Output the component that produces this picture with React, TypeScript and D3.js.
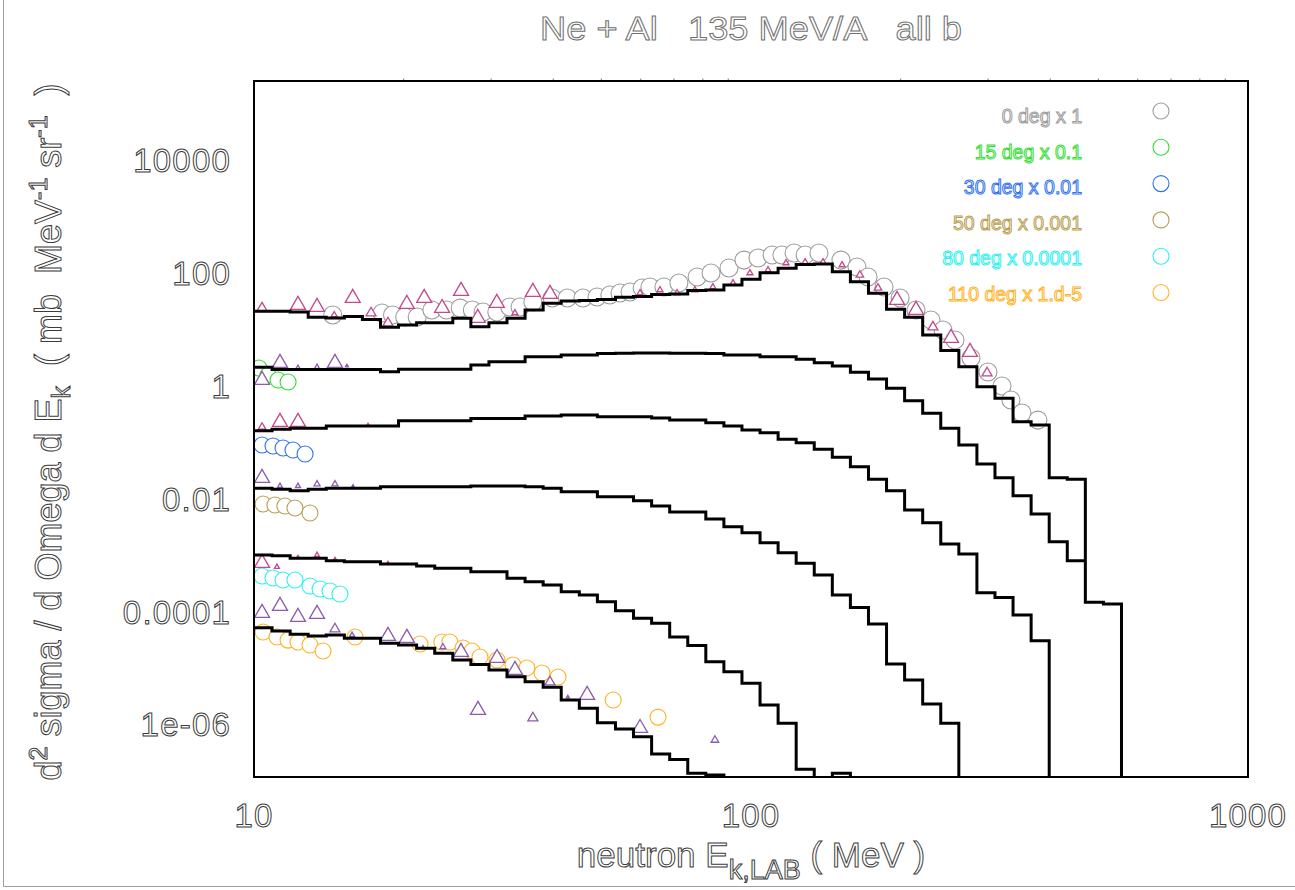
import React from 'react';
import * as d3 from 'd3';

const W = 1295;
const H = 890;

// 55 logarithmic energy bins from 10 to 1000 MeV (bin edges, MeV)
const binEdges = [
  10.0, 10.873, 11.823, 12.855, 13.977, 15.199, 16.525, 17.967, 19.536, 21.242,
  23.101, 25.119, 27.312, 29.697, 32.289, 35.112, 38.178, 41.51, 45.14, 49.08,
  53.37, 58.03, 63.1, 68.61, 74.6, 81.11, 88.2, 95.9, 104.28, 113.38,
  123.28, 134.05, 145.75, 158.49, 172.33, 187.38, 203.74, 221.53, 240.88, 261.92,
  284.8, 309.67, 336.72, 366.13, 398.11, 432.88, 470.68, 511.79, 556.49, 605.09,
  657.93, 715.39, 777.87, 845.81, 919.68, 1000.0,
];

// calculated spectra (already multiplied by the legend factors); 0 = empty bin
const hist0deg = [
  21.1, 21.1, 20.5, 16.5, 16.1, 17.1, 15.2, 11.0, 12.1, 13.3, 13.3, 15.9, 11.3, 13.3, 15.9,
  22.3, 29.3, 32.1, 32.8, 34.2, 37.4, 38.6, 41.9, 42.8, 49.3, 50.4, 61.8, 78.0, 102, 122,
  143, 146, 106, 70.6, 44.0, 22.9, 16.5, 8.02, 4.26, 2.2, 0.97, 0.605, 0.233, 0.204,
  0.0237, 0.0222, 1.46e-4, 1.36e-4, 1e-9, 0, 0, 0, 0, 0, 0,
];
const hist15deg = [
  2.15, 1.96, 1.96, 1.96, 1.96, 1.96, 1.96, 1.79, 1.98, 1.98, 1.98, 1.98, 2.36, 2.7, 2.7,
  3.31, 3.31, 3.55, 3.55, 3.78, 3.82, 3.85, 3.85, 3.82, 3.8, 3.78, 3.55, 3.55, 3.31, 3.31,
  2.97, 2.59, 2.26, 1.76, 1.33, 0.91, 0.549, 0.328, 0.178, 0.09, 0.0414, 0.0237, 0.01135,
  0.00537, 0.00173, 7.98e-4, 0, 0, 0, 0, 0, 0, 0, 0, 0,
];
const hist30deg = [
  0.161, 0.171, 0.178, 0.178, 0.195, 0.195, 0.195, 0.195, 0.243, 0.243, 0.243, 0.243,
  0.267, 0.267, 0.267, 0.294, 0.294, 0.306, 0.306, 0.286, 0.286, 0.286, 0.271, 0.249,
  0.249, 0.224, 0.195, 0.166, 0.149, 0.1135, 0.0988, 0.0755, 0.0545, 0.0371, 0.0222,
  0.0139, 0.00633, 0.00377, 0.00158, 0.00105, 2.16e-4, 1.79e-4, 8.7e-5, 3.05e-5, 1e-9,
  0, 0, 0, 0, 0, 0, 0, 0, 0, 0,
];
const hist50deg = [
  0.01535, 0.01473, 0.01393, 0.01473, 0.01535, 0.01535, 0.01535, 0.0164, 0.0164, 0.0164,
  0.0164, 0.0164, 0.01686, 0.01686, 0.01686, 0.0164, 0.01535, 0.01336, 0.01336, 0.01089,
  0.01089, 0.00925, 0.00745, 0.00583, 0.00583, 0.00438, 0.0032, 0.00251, 0.00167, 0.00111,
  7.18e-4, 4.45e-4, 1.97e-4, 1.19e-4, 6.03e-5, 1.18e-5, 6.12e-6, 2.3e-6, 1.05e-6, 1e-9,
  0, 0, 0, 0, 0, 0, 0, 0, 0, 0, 0, 0, 0, 0, 0,
];
const hist80deg = [
  1.008e-3, 9.8e-4, 8.81e-4, 8.81e-4, 7.98e-4, 7.67e-4, 7.67e-4, 6.98e-4, 6.98e-4, 6.44e-4,
  5.86e-4, 5.86e-4, 5.1e-4, 5.1e-4, 3.89e-4, 3.39e-4, 2.96e-4, 2.25e-4, 1.97e-4, 1.5e-4,
  1.04e-4, 7.61e-5, 6.21e-5, 3.55e-5, 2.51e-5, 1.29e-5, 8.6e-6, 5.35e-6, 2.21e-6, 1.05e-6,
  1.6e-7, 1e-9, 1.36e-7, 1e-9, 0, 0, 0, 0, 0, 0, 0, 0, 0, 0, 0, 0, 0, 0, 0, 0, 0, 0, 0, 0, 0,
];
const hist110deg = [
  5.19e-5, 4.53e-5, 3.96e-5, 3.69e-5, 3.85e-5, 3.36e-5, 3.36e-5, 2.74e-5, 2.56e-5, 2.24e-5,
  1.82e-5, 1.39e-5, 1.16e-5, 9.2e-6, 7.0e-6, 5.7e-6, 4.55e-6, 2.71e-6, 1.93e-6, 1.07e-6,
  8.3e-7, 6.05e-7, 2.99e-7, 2.4e-7, 1.37e-7, 1.27e-7, 1e-9,
  0, 0, 0, 0, 0, 0, 0, 0, 0, 0, 0, 0, 0, 0, 0, 0, 0, 0, 0, 0, 0, 0, 0, 0, 0, 0, 0,
];

// measured data, circles: [E (MeV), value]
const circ0deg = [
  [14.4, 18.2], [18.1, 19.7], [19.0, 18.2], [20.1, 16.7], [21.3, 16.7], [22.8, 22.3], [24.4, 22.3],
  [26.0, 24.1], [27.5, 22.3], [28.9, 20.5], [30.8, 20.5], [32.7, 25.2], [34.3, 25.2], [36.4, 30.9],
  [39.8, 36.3], [42.7, 36.3], [45.9, 36.3], [49.0, 37.8], [52.0, 41.0], [54.5, 44.6], [57.1, 46.4],
  [60.4, 54.7], [62.6, 56.9], [66.8, 56.9], [71.6, 67.0], [77.9, 85.6], [83.1, 100.9], [90.3, 123.7],
  [96.8, 171], [103.3, 186], [110.3, 210], [115.4, 210], [122.1, 228], [128.5, 210], [137.0, 228],
  [151.7, 171], [163.4, 129], [172.0, 85.6], [185.2, 56.9], [199.5, 36.3], [214.8, 22.3],
  [230.2, 14.8], [243.4, 9.84], [257.3, 6.54], [277.1, 3.14], [299.8, 1.77], [319.9, 1.0],
  [333.4, 0.565], [351, 0.332], [377.8, 0.249],
];
const circ15deg = [[10.23, 2.09], [10.67, 1.57], [11.18, 1.28], [11.71, 1.18]];
const circ30deg = [[10.38, 0.0899], [10.92, 0.0863], [11.44, 0.0796], [11.98, 0.0733], [12.67, 0.0623]];
const circ50deg = [[10.43, 0.00809], [11.02, 0.00776], [11.54, 0.00745], [12.09, 0.00687], [12.96, 0.0056]];
const circ80deg = [
  [10.38, 4.28e-4], [10.92, 3.94e-4], [11.44, 3.63e-4], [12.09, 3.63e-4], [12.96, 2.84e-4],
  [13.58, 2.52e-4], [14.22, 2.32e-4], [14.89, 2.05e-4],
];
const circ110deg = [
  [10.43, 4.35e-5], [11.12, 3.55e-5], [11.71, 3.13e-5], [12.26, 2.89e-5], [12.96, 2.56e-5],
  [13.77, 2.0e-5], [15.97, 3.55e-5], [21.58, 2.67e-5], [23.88, 2.89e-5], [24.78, 2.89e-5],
  [26.34, 2.26e-5], [27.46, 2.0e-5], [28.49, 1.57e-5], [30.83, 1.39e-5], [33.19, 1.13e-5],
  [35.4, 1.0e-5], [37.98, 8.15e-6], [40.9, 6.92e-6], [52.8, 2.71e-6], [65.0, 1.35e-6],
];

// second data set, triangles: [E (MeV), value, relative error]
const tri0deg = [
  [10.38, 24.1, 0.2], [12.26, 27.3, 0.3], [13.39, 25.2, 0.3], [14.5, 18.2, 0.12], [15.8, 36.3, 0.3],
  [17.2, 19.7, 0.2], [18.6, 13.1, 0.2], [20.3, 28.4, 0.3], [22.0, 36.3, 0.3], [23.9, 24.1, 0.3],
  [26.1, 48.3, 0.3], [28.2, 16.1, 0.3], [30.8, 29.6, 0.3], [33.5, 19.7, 0.12], [36.4, 46.4, 0.3],
  [39.4, 42.8, 0.3], [59.8, 44.6, 0.12], [65.6, 50.4, 0.12], [71.0, 44.6, 0.12], [77.1, 50.4, 0.12],
  [83.8, 56.9, 0.12], [92.0, 67.0, 0.12], [99.5, 100.8, 0.12], [108.2, 114, 0.12], [117.6, 151.7, 0.12],
  [128.5, 158, 0.12], [139.6, 158, 0.12], [152.5, 139.8, 0.12], [165.6, 92.9, 0.15], [180.1, 54.7, 0.15],
  [196.7, 33.5, 0.3], [214.8, 22.3, 0.3], [232.3, 11.1, 0.2], [252.6, 7.1, 0.3], [275.8, 4.01, 0.3],
  [298.5, 1.7, 0.2],
];
const tri15deg = [[10.38, 1.28, 0.3], [11.28, 2.56, 0.3], [12.26, 2.09, 0.1], [13.39, 2.17, 0.1], [14.55, 2.56, 0.3], [15.38, 2.26, 0.06]];
const tri30deg = [[10.38, 0.1875, 0.15], [11.28, 0.23, 0.3], [12.26, 0.23, 0.3], [16.96, 0.2035, 0.06]];
const tri50deg = [[10.38, 0.0234, 0.3], [11.28, 0.01686, 0.1], [12.26, 0.01686, 0.1], [13.39, 0.01829, 0.12], [14.55, 0.01829, 0.12], [15.82, 0.01686, 0.05]];
const tri80deg = [[10.38, 7.27e-4, 0.3], [11.12, 6.18e-4, 0.1], [12.26, 9.29e-4, 0.06], [13.39, 1.008e-3, 0.1], [14.55, 8.57e-4, 0.06], [18.6, 7.27e-4, 0.06]];
const tri110deg = [
  [10.38, 9.44e-5, 0.3], [11.28, 1.26e-4, 0.3], [12.26, 8.02e-5, 0.3], [13.39, 9.06e-5, 0.3],
  [14.55, 4.91e-5, 0.2], [15.75, 3.85e-5, 0.1], [18.6, 3.69e-5, 0.3], [20.31, 3.4e-5, 0.3],
  [21.88, 2.36e-5, 0.05], [23.99, 2.36e-5, 0.12], [26.09, 1.92e-5, 0.3], [28.23, 1.8e-6, 0.3],
  [30.83, 1.5e-5, 0.3], [33.5, 9.2e-6, 0.3], [36.4, 1.3e-6, 0.2], [39.4, 5.65e-6, 0.2],
  [42.8, 3.06e-6, 0.06], [46.8, 3.32e-6, 0.3], [59.8, 8.6e-7, 0.3], [84.6, 5.28e-7, 0.15],
];

const legendLabels = ['0 deg x 1', '15 deg x 0.1', '30 deg x 0.01', '50 deg x 0.001', '80 deg x 0.0001', '110 deg x 1.d-5'];
const seriesColors = ['#9c9c9c', '#2fe02f', '#2f72ee', '#b89e52', '#2ef0f0', '#ffb224'];
const triangleColors = ['#c4478f', '#8d5aac', '#c4478f', '#8d5aac', '#c4478f', '#8d5aac'];

const yTickValues = [1e4, 100, 1, 0.01, 1e-4, 1e-6];
const yTickLabels = ['10000', '100', '1', '0.01', '0.0001', '1e-06'];
const xTickValues = [10, 100, 1000];
const xTickLabels = ['10', '100', '1000'];
const xMinorTicks = [20, 30, 40, 50, 60, 70, 80, 90, 200, 300, 400, 500, 600, 700, 800, 900];

const FONT = "'Liberation Sans', Arial, Helvetica, sans-serif";

export default function App() {
  const left = 254, right = 1248, top = 81, bottom = 777;
  const x = d3.scaleLog().domain([10, 1000]).range([left, right]);
  const y = d3.scaleLog().domain([1.17e-7, 2.56e5]).range([bottom, top]);

  const hists = [hist0deg, hist15deg, hist30deg, hist50deg, hist80deg, hist110deg];
  const circs = [circ0deg, circ15deg, circ30deg, circ50deg, circ80deg, circ110deg];
  const tris = [tri0deg, tri15deg, tri30deg, tri50deg, tri80deg, tri110deg];

  const histPath = (vals: number[]) => {
    const pts: ([number, number] | null)[] = [];
    vals.forEach((v, i) => {
      if (v > 0) {
        pts.push([binEdges[i], v], [binEdges[i + 1], v]);
      } else {
        pts.push(null);
      }
    });
    const line = d3
      .line<[number, number] | null>()
      .defined((d) => d !== null)
      .x((d) => x((d as [number, number])[0]))
      .y((d) => y((d as [number, number])[1]));
    return line(pts) || '';
  };

  const triSym = d3.symbol().type(d3.symbolTriangle);

  const outline = (color: string, w = 1) => ({ fill: '#ffffff', stroke: color, strokeWidth: w });

  return (
    <svg width={W} height={H} style={{ position: 'absolute', left: 0, top: 0, background: '#fff' }} fontFamily={FONT}>
      <defs>
        <clipPath id="plotClip">
          <rect x={left} y={top} width={right - left} height={bottom - top} />
        </clipPath>
      </defs>
      <rect x={0} y={0} width={W} height={H} fill="#fff" />
      {/* outer frame */}
      <line x1={3.5} y1={0} x2={3.5} y2={886.5} stroke="#a0a0a0" strokeWidth={1} />
      <line x1={3.5} y1={886.5} x2={W} y2={886.5} stroke="#a0a0a0" strokeWidth={1} />

      {/* title */}
      <text x={751} y={40} textAnchor="middle" fontSize={34} style={{ whiteSpace: 'pre' }}
        textLength={422} lengthAdjust="spacingAndGlyphs" {...outline('#707070', 1)}>
        {'Ne + Al   135 MeV/A   all b'}
      </text>

      <g clipPath="url(#plotClip)">
        {/* circles */}
        {circs.map((pts, si) => (
          <g key={'c' + si}>
            {pts.map((p, i) => (
              <circle key={i} cx={x(p[0])} cy={y(p[1])} r={si === 0 ? 9 : 8}
                fill="#fff" stroke={seriesColors[si]} strokeWidth={1.1} />
            ))}
          </g>
        ))}
        {/* triangles */}
        {tris.map((pts, si) => (
          <g key={'t' + si}>
            {pts.map((p, i) => {
              const w = p[2] * 50;
              return (
                <path key={i} d={triSym.size(0.433 * w * w)() || ''}
                  transform={`translate(${x(p[0])},${y(p[1])})`}
                  fill="#fff" stroke={triangleColors[si]} strokeWidth={1.3} />
              );
            })}
          </g>
        ))}
        {/* calculated histograms */}
        {hists.map((h, si) => (
          <path key={'h' + si} d={histPath(h)} fill="none" stroke="#000" strokeWidth={3} strokeLinejoin="miter" />
        ))}
      </g>

      {/* plot frame */}
      <rect x={left} y={top} width={right - left} height={bottom - top} fill="none" stroke="#000" strokeWidth={2} />
      {xMinorTicks.map((t) => (
        <line key={t} x1={x(t)} x2={x(t)} y1={top - 1} y2={top - 2.5} stroke="#777" strokeWidth={1} />
      ))}

      {/* legend */}
      {legendLabels.map((lab, i) => (
        <g key={lab}>
          <text x={1082} y={123 + 35.6 * i} textAnchor="end" fontSize={19.5} {...outline(seriesColors[i], 1)}>
            {lab}
          </text>
          <circle cx={1161} cy={111 + 36.3 * i} r={8} fill="#fff" stroke={seriesColors[i]} strokeWidth={1.1} />
        </g>
      ))}

      {/* y ticks */}
      {yTickValues.map((v, i) => (
        <text key={v} x={231} y={y(v) + 12} textAnchor="end" fontSize={33} letterSpacing={1.2}
          {...outline('#3c3c3c', 1)}>
          {yTickLabels[i]}
        </text>
      ))}
      {/* x ticks */}
      {xTickValues.map((v, i) => (
        <text key={v} x={x(v)} y={827} textAnchor="middle" fontSize={33} letterSpacing={1.2}
          {...outline('#3c3c3c', 1)}>
          {xTickLabels[i]}
        </text>
      ))}

      {/* x label */}
      <text x={751} y={867} textAnchor="middle" fontSize={35} style={{ whiteSpace: 'pre' }} {...outline('#3c3c3c', 1)}>
        <tspan>neutron E</tspan>
        <tspan fontSize={27} dy={12}>k,LAB</tspan>
        <tspan dy={-12}>{' ( MeV )'}</tspan>
      </text>

      {/* y label */}
      <text transform="translate(61,432) rotate(-90)" textAnchor="middle" fontSize={36}
        style={{ whiteSpace: 'pre' }} {...outline('#3c3c3c', 1)}>
        <tspan>d</tspan>
        <tspan fontSize={25} dy={-14}>2</tspan>
        <tspan dy={14}>{' sigma / d Omega d E'}</tspan>
        <tspan fontSize={25} dy={9}>k</tspan>
        <tspan dy={-9}>{'  ( mb  MeV'}</tspan>
        <tspan fontSize={25} dy={-14}>-1</tspan>
        <tspan dy={14}>{' sr'}</tspan>
        <tspan fontSize={25} dy={-14}>-1</tspan>
        <tspan dy={14}>{'  )'}</tspan>
      </text>
    </svg>
  );
}
